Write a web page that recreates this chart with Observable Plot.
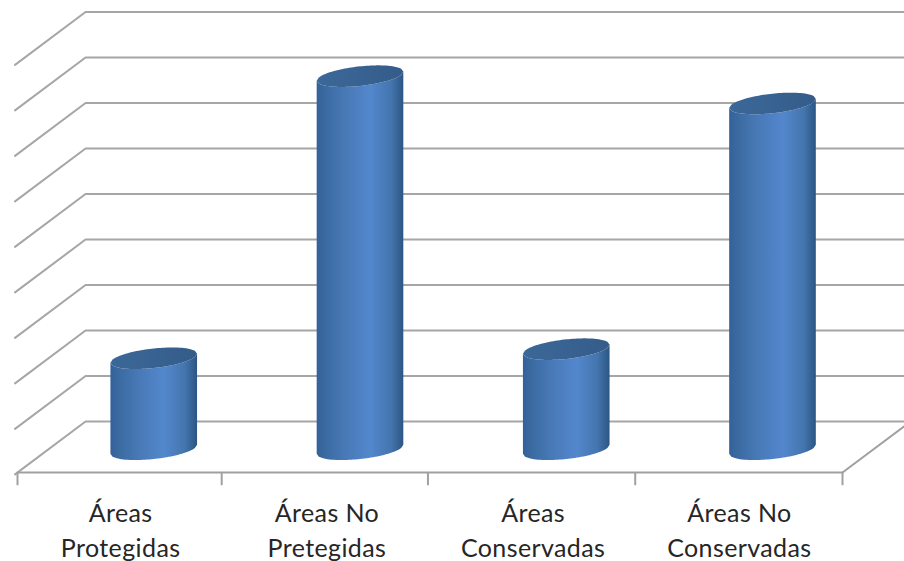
<!DOCTYPE html>
<html>
<head>
<meta charset="utf-8">
<script src="https://cdn.jsdelivr.net/npm/d3@7"></script>
<script src="https://cdn.jsdelivr.net/npm/@observablehq/plot@0.6"></script>
<style>
  html, body { margin: 0; padding: 0; background: #fff; overflow: hidden; }
  svg text { letter-spacing: 0.4px; }
</style>
</head>
<body>
<div id="chart"></div>
<script>
// Chart content
const categories = ["Áreas\nProtegidas", "Áreas No\nPretegidas", "Áreas\nConservadas", "Áreas No\nConservadas"];
const values = [20, 82, 22, 76];
const gridLevels = [0, 10, 20, 30, 40, 50, 60, 70, 80, 90];
const tickPositions = [0, 0.99, 1.99, 2.995, 4];

// Oblique projection of the 3D box, in axis units
const depthX = 0.33;
const depthY = 11.2;
const columnOffset = 0.663;
const baseLift = 5;
const radius = 0.21;
const capHeight = 2.15;
const capTilt = 1;
const tickDrop = 2.9;
const wallOvershoot = 0.012;

const samples = d3.range(-1, 1.0001, 0.05);

// Cylinder outlines sampled along the width of each column
const arc = (u, side) => side * capHeight * Math.sqrt(Math.max(0, 1 - u * u)) + capTilt * u;
const columns = categories.flatMap((c, i) => samples.map((u) => ({
  i,
  x: i + columnOffset + radius * u,
  bodyLow: baseLift + arc(u, -1),
  bodyHigh: baseLift + values[i] + arc(u, -1),
  capHigh: baseLift + values[i] + arc(u, 1)
})));

// Back wall and left wall lines: front-left corner, back-left corner, back-right end
const wallLines = gridLevels.flatMap((v) => [
  {v, x: -wallOvershoot, y: v - wallOvershoot * depthY / depthX},
  {v, x: depthX, y: v + depthY},
  {v, x: categories.length + depthX + 1, y: v + depthY}
]);
const floorEdges = [
  {edge: "front", x: 0, y: 0},
  {edge: "front", x: categories.length, y: 0},
  {edge: "side", x: categories.length, y: 0},
  {edge: "side", x: categories.length + depthX, y: depthY}
];

const gradients = () => {
  const ns = "http://www.w3.org/2000/svg";
  const defs = document.createElementNS(ns, "defs");
  const add = (id, stops) => {
    const g = document.createElementNS(ns, "linearGradient");
    g.setAttribute("id", id);
    for (const [offset, color] of stops) {
      const s = document.createElementNS(ns, "stop");
      s.setAttribute("offset", offset);
      s.setAttribute("stop-color", color);
      g.appendChild(s);
    }
    defs.appendChild(g);
  };
  add("body", [[0, "#33609a"], [0.08, "#3a699f"], [0.32, "#4879b6"], [0.62, "#5387cd"], [0.86, "#4475ae"], [1, "#2c5584"]]);
  add("cap", [[0, "#3b6899"], [1, "#355c89"]]);
  return defs;
};

const pxPerUnitX = 206.25;
const pxPerUnitY = 4.55;

const chart = Plot.plot({
  width: 904,
  height: 561,
  marginTop: 0,
  marginRight: 0,
  marginLeft: 0,
  marginBottom: 89,
  style: {background: "#fff"},
  x: {type: "linear", domain: [-17 / pxPerUnitX, (904 - 17) / pxPerUnitX], axis: null},
  y: {type: "linear", domain: [0, 472 / pxPerUnitY], axis: null},
  marks: [
    gradients,
    Plot.line(wallLines, {x: "x", y: "y", z: "v", stroke: "#a6a6a6", strokeWidth: 2}),
    Plot.line(floorEdges, {x: "x", y: "y", z: "edge", stroke: "#a0a0a0", strokeWidth: 2}),
    Plot.ruleX(tickPositions, {y1: 0, y2: -tickDrop, stroke: "#a0a0a0", strokeWidth: 2}),
    Plot.areaY(columns, {x: "x", y1: "bodyLow", y2: "bodyHigh", z: "i", fill: "url(#body)"}),
    Plot.areaY(columns, {x: "x", y1: "bodyHigh", y2: "capHigh", z: "i", fill: "url(#cap)"}),
    Plot.axisX(categories.map((c, i) => i + 0.5), {
      label: null,
      tickSize: 0,
      tickPadding: 25,
      tickFormat: (d) => categories[Math.floor(d)],
      fontSize: 25,
      fontFamily: "Lato",
      lineHeight: 1.4,
      fill: "#262626"
    })
  ]
});
document.getElementById("chart").appendChild(chart);
</script>
</body>
</html>
